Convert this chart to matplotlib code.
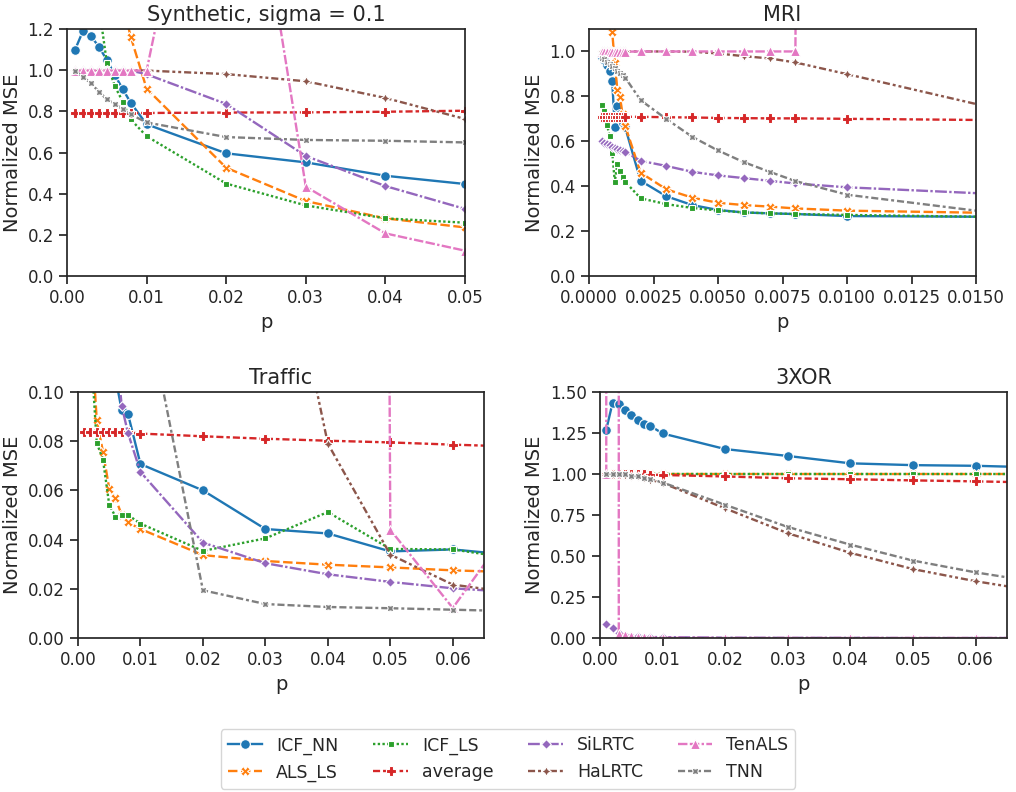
import numpy as np
import matplotlib
matplotlib.use("Agg")
import matplotlib.pyplot as plt

# method names, in legend order
methods = ["ICF_NN", "ALS_LS", "ICF_LS", "average", "SiLRTC", "HaLRTC", "TenALS", "TNN"]

# Synthetic, sigma = 0.1
syn_p = [0.001, 0.002, 0.003, 0.004, 0.005, 0.006, 0.007, 0.008, 0.01, 0.02, 0.03, 0.04, 0.05]
syn_icf_nn = [1.098, 1.19, 1.166, 1.114, 1.05, 0.977, 0.908, 0.842, 0.737, 0.596, 0.552, 0.487, 0.447]
syn_als_ls = [2.6, 2.3, 2.0, 1.8, 1.6, 1.45, 1.32, 1.163, 0.91, 0.526, 0.364, 0.28, 0.236]
syn_icf_ls = [2.2, 1.9, 1.6, 1.315, 1.037, 0.923, 0.847, 0.761, 0.679, 0.449, 0.343, 0.28, 0.259]
syn_avg = [0.792, 0.792, 0.792, 0.792, 0.792, 0.792, 0.792, 0.792, 0.792, 0.794, 0.795, 0.798, 0.803]
syn_silrtc = [0.999, 0.999, 0.999, 0.999, 0.999, 0.999, 0.999, 0.998, 0.98, 0.836, 0.583, 0.437, 0.326]
syn_halrtc = [1.0, 1.0, 1.0, 1.0, 1.0, 1.0, 1.0, 1.0, 0.998, 0.981, 0.946, 0.865, 0.763]
syn_tenals = [0.998, 0.998, 0.998, 0.998, 0.998, 0.998, 0.998, 0.998, 0.998, 2.85, 0.434, 0.207, 0.123]
syn_tnn = [0.998, 0.968, 0.936, 0.896, 0.858, 0.836, 0.81, 0.785, 0.746, 0.675, 0.661, 0.657, 0.649]

# MRI
mri_p = [0.0005, 0.0006, 0.0007, 0.0008, 0.0009, 0.001, 0.0011, 0.0012, 0.0013, 0.0014,
         0.002, 0.003, 0.004, 0.005, 0.006, 0.007, 0.008, 0.01, 0.02]
mri_icf_nn = [0.975, 0.96, 0.94, 0.912, 0.868, 0.663, 0.757, 0.72, 0.68, 0.663,
              0.424, 0.355, 0.316, 0.294, 0.283, 0.279, 0.276, 0.267, 0.261]
mri_als_ls = [1.6, 1.45, 1.3, 1.18, 1.085, 0.95, 0.828, 0.798, 0.72, 0.67,
              0.46, 0.386, 0.349, 0.326, 0.316, 0.309, 0.301, 0.291, 0.273]
mri_icf_ls = [0.76, 0.736, 0.672, 0.623, 0.55, 0.42, 0.50, 0.467, 0.439, 0.42,
              0.346, 0.32, 0.303, 0.292, 0.283, 0.279, 0.276, 0.272, 0.256]
mri_avg = [0.709, 0.709, 0.709, 0.709, 0.709, 0.709, 0.709, 0.709, 0.709, 0.709,
           0.709, 0.707, 0.706, 0.704, 0.703, 0.702, 0.702, 0.70, 0.69]
mri_silrtc = [0.600, 0.594, 0.588, 0.582, 0.576, 0.570, 0.566, 0.562, 0.558, 0.553,
              0.513, 0.49, 0.464, 0.448, 0.436, 0.424, 0.412, 0.395, 0.343]
mri_halrtc = [1.0, 1.0, 1.0, 1.0, 1.0, 1.0, 1.0, 1.0, 1.0, 1.0,
              1.0, 1.0, 0.999, 0.991, 0.979, 0.969, 0.951, 0.899, 0.633]
mri_tenals = [0.999, 0.999, 0.999, 0.999, 0.999, 0.999, 0.999, 0.999, 0.999, 0.999,
              1.0, 1.0, 1.0, 1.0, 1.0, 1.0, 1.0, 40.0, 40.0]
mri_tnn = [0.973, 0.965, 0.955, 0.945, 0.935, 0.925, 0.915, 0.905, 0.895, 0.884,
           0.783, 0.699, 0.62, 0.559, 0.507, 0.464, 0.423, 0.362, 0.22]

# Traffic
trf_p = [0.001, 0.002, 0.003, 0.004, 0.005, 0.006, 0.007, 0.008, 0.01, 0.02, 0.03, 0.04, 0.05, 0.06, 0.07]
trf_icf_nn = [0.3, 0.25, 0.2, 0.16, 0.13, 0.106, 0.0925, 0.0911, 0.0707, 0.06, 0.0443, 0.0425, 0.0352, 0.036, 0.0336]
trf_als_ls = [0.2, 0.13, 0.0885, 0.0757, 0.0607, 0.0568, 0.050, 0.047, 0.0443, 0.0337, 0.0313, 0.0298, 0.0287, 0.0275, 0.0267]
trf_icf_ls = [0.2, 0.12, 0.0793, 0.0725, 0.0542, 0.0493, 0.05, 0.05, 0.0465, 0.0354, 0.0405, 0.0512, 0.0362, 0.036, 0.0322]
trf_avg = [0.0836, 0.0836, 0.0836, 0.0836, 0.0836, 0.0836, 0.0836, 0.0836, 0.0831, 0.082, 0.081, 0.0802, 0.0795, 0.0786, 0.0778]
trf_silrtc = [0.5, 0.4, 0.3, 0.22, 0.16, 0.12, 0.0944, 0.0833, 0.0675, 0.0388, 0.0304, 0.0259, 0.0228, 0.0202, 0.0186]
trf_halrtc = [2.0, 1.8, 1.6, 1.4, 1.2, 1.0, 0.9, 0.8, 0.7, 0.5, 0.2, 0.079, 0.0339, 0.0217, 0.0183]
trf_tenals = [5.0, 5.0, 5.0, 5.0, 5.0, 5.0, 5.0, 5.0, 5.0, 5.0, 5.0, 5.0, 0.044, 0.0122, 0.0474]
trf_tnn = [0.5, 0.45, 0.4, 0.35, 0.3, 0.25, 0.2, 0.17, 0.147, 0.0194, 0.0138, 0.0126, 0.0121, 0.0115, 0.0109]

# 3XOR
xor_p = [0.001, 0.002, 0.003, 0.004, 0.005, 0.006, 0.007, 0.008, 0.01, 0.02, 0.03, 0.04, 0.05, 0.06, 0.07]
xor_icf_nn = [1.27, 1.433, 1.426, 1.392, 1.361, 1.331, 1.303, 1.294, 1.247, 1.152, 1.11, 1.065, 1.054, 1.05, 1.04]
xor_als_ls = [1.0, 1.0, 1.0, 1.0, 1.0, 1.0, 1.0, 1.0, 1.0, 1.0, 1.0, 1.0, 1.0, 1.0, 1.0]
xor_icf_ls = [1.0, 1.0, 1.0, 1.0, 1.0, 1.0, 1.0, 1.0, 1.0, 1.0, 1.0, 1.0, 1.0, 1.0, 1.0]
xor_avg = [1.0, 1.0, 1.0, 1.0, 0.999, 0.998, 0.997, 0.996, 0.994, 0.985, 0.974, 0.968, 0.961, 0.955, 0.948]
xor_silrtc = [0.087, 0.058, 0.03, 0.02, 0.015, 0.01, 0.008, 0.006, 0.005, 0.002, 0.001, 0.001, 0.0, 0.0, 0.0]
xor_halrtc = [1.0, 1.0, 0.999, 0.995, 0.99, 0.985, 0.975, 0.965, 0.945, 0.79, 0.639, 0.519, 0.42, 0.346, 0.285]
xor_tenals = [1.0, 1000.0, 0.026, 0.021, 0.012, 0.008, 0.004, 0.002, 0.001, 0.0, 0.0, 0.0, 0.0, 0.0, 0.0]
xor_tnn = [1.0, 1.0, 1.0, 0.998, 0.99, 0.985, 0.978, 0.97, 0.948, 0.812, 0.677, 0.569, 0.472, 0.4, 0.34]

# seaborn-like look
plt.rcParams.update({
    "axes.edgecolor": ".15",
    "axes.linewidth": 1.25,
    "xtick.color": ".15",
    "ytick.color": ".15",
    "xtick.major.size": 6,
    "ytick.major.size": 6,
    "xtick.major.width": 1.25,
    "ytick.major.width": 1.25,
    "xtick.labelsize": 12,
    "ytick.labelsize": 12,
    "text.color": ".15",
    "axes.labelcolor": ".15",
})

colors = plt.rcParams["axes.prop_cycle"].by_key()["color"][:8]
markers = ["o", "X", (4, 0, 45), "P", (4, 0, 0), (4, 1, 0), "^", (4, 1, 45)]
dashes = [(None, None), (4, 1.5), (1, 1), (3, 1.25, 1.5, 1.25), (5, 1, 1, 1),
          (3, 1.25, 1.25, 1.25, 1.25, 1.25), (4, 1, 4, 1, 1, 1), (3, 1.25, 3, 1.25, 1.25, 1.25)]

panels = [
    ("Synthetic, sigma = 0.1", syn_p,
     [syn_icf_nn, syn_als_ls, syn_icf_ls, syn_avg, syn_silrtc, syn_halrtc, syn_tenals, syn_tnn],
     (0, 0.05), (0, 1.2), np.arange(0, 0.051, 0.01), np.arange(0, 1.21, 0.2), "{:.2f}", "{:.1f}"),
    ("MRI", mri_p,
     [mri_icf_nn, mri_als_ls, mri_icf_ls, mri_avg, mri_silrtc, mri_halrtc, mri_tenals, mri_tnn],
     (0, 0.015), (0, 1.1), np.arange(0, 0.0151, 0.0025), np.arange(0, 1.01, 0.2), "{:.4f}", "{:.1f}"),
    ("Traffic", trf_p,
     [trf_icf_nn, trf_als_ls, trf_icf_ls, trf_avg, trf_silrtc, trf_halrtc, trf_tenals, trf_tnn],
     (0, 0.065), (0, 0.1), np.arange(0, 0.061, 0.01), np.arange(0, 0.101, 0.02), "{:.2f}", "{:.2f}"),
    ("3XOR", xor_p,
     [xor_icf_nn, xor_als_ls, xor_icf_ls, xor_avg, xor_silrtc, xor_halrtc, xor_tenals, xor_tnn],
     (0, 0.065), (0, 1.5), np.arange(0, 0.061, 0.01), np.arange(0, 1.51, 0.25), "{:.2f}", "{:.2f}"),
]

# axes boxes in pixels: left, right, top, bottom
boxes = [(67, 465, 29, 276), (589, 976, 29, 276), (78, 484, 392, 638), (600, 1007, 392, 638)]
W, H = 1016, 792

fig = plt.figure(figsize=(W / 100, H / 100), dpi=100)
handles = []
for (title, p, series, xl, yl, xt, yt, xf, yf), (l, r, t, b) in zip(panels, boxes):
    ax = fig.add_axes([l / W, 1 - b / H, (r - l) / W, (b - t) / H])
    for i, y in enumerate(series):
        line, = ax.plot(p, y, color=colors[i], marker=markers[i], markersize=7,
                        markeredgecolor="w", markeredgewidth=0.8, lw=1.7, label=methods[i])
        if i > 0:
            line.set_dashes(dashes[i])
        if len(handles) < 8:
            handles.append(line)
    ax.set_xlim(*xl)
    ax.set_ylim(*yl)
    ax.set_xticks(xt)
    ax.set_xticklabels([xf.format(v) for v in xt])
    ax.set_yticks(yt)
    ax.set_yticklabels([yf.format(v) for v in yt])
    ax.set_title(title, fontsize=15)
    ax.set_xlabel("p", fontsize=14)
    ax.set_ylabel("Normalized MSE", fontsize=14)

fig.legend(handles, methods, loc="center", bbox_to_anchor=(0.5, 1 - 759 / H),
           ncol=4, fontsize=12.5)

fig.savefig("out.png", dpi=100)
